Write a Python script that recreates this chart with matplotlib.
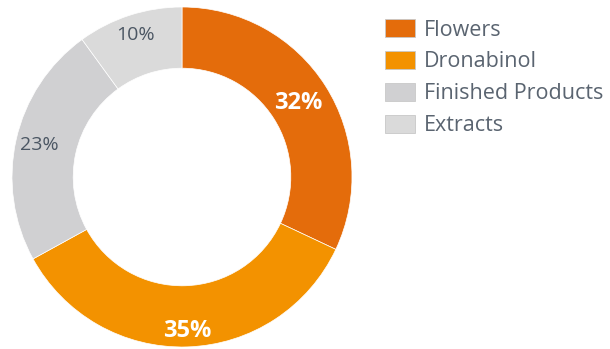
import matplotlib
matplotlib.use("Agg")
import numpy as np
import matplotlib.pyplot as plt
from matplotlib.patches import Patch

categories = ["Flowers", "Dronabinol", "Finished Products", "Extracts"]
values = [32, 35, 23, 10]
colors = ["#E46C0B", "#F39200", "#D0D0D2", "#DADADA"]
label_colors = ["white", "white", "#4B5663", "#4B5663"]
label_weights = ["bold", "bold", "normal", "normal"]
label_sizes = [17, 17, 14, 14]
label_radii = [0.81, 0.905, 0.86, 0.88]

plt.rcParams['font.family'] = ['Open Sans', 'DejaVu Sans']

W, H = 610, 349
fig = plt.figure(figsize=(W / 100, H / 100), dpi=100)
cx, cy, R = 182, 177, 170
ax = fig.add_axes([(cx - R) / W, (H - cy - R) / H, 2 * R / W, 2 * R / H])

wedges, _ = ax.pie(values, colors=colors, startangle=90, counterclock=False,
                   radius=1, wedgeprops=dict(width=0.36, edgecolor="white", linewidth=0.5))
for w, v, c, wt, s, r in zip(wedges, values, label_colors, label_weights, label_sizes, label_radii):
    ang = np.deg2rad((w.theta1 + w.theta2) / 2)
    ax.text(r * np.cos(ang), r * np.sin(ang), f"{v}%", color=c, fontweight=wt,
            fontsize=s, ha="center", va="center")
ax.set_xlim(-1, 1)
ax.set_ylim(-1, 1)
ax.set_aspect("equal")
ax.axis("off")

handles = [Patch(facecolor=c, edgecolor="#C8C8C8", linewidth=0.6) for c in colors]
leg = fig.legend(handles, categories, loc="upper left",
                 bbox_to_anchor=(385 / W, 1 - 19 / H), frameon=False,
                 fontsize=15.5, handlelength=1.4, handleheight=0.93,
                 labelspacing=0.48, handletextpad=0.42, borderaxespad=0, borderpad=0)
for t in leg.get_texts():
    t.set_color("#5A6470")

fig.savefig("out.png", dpi=100)
